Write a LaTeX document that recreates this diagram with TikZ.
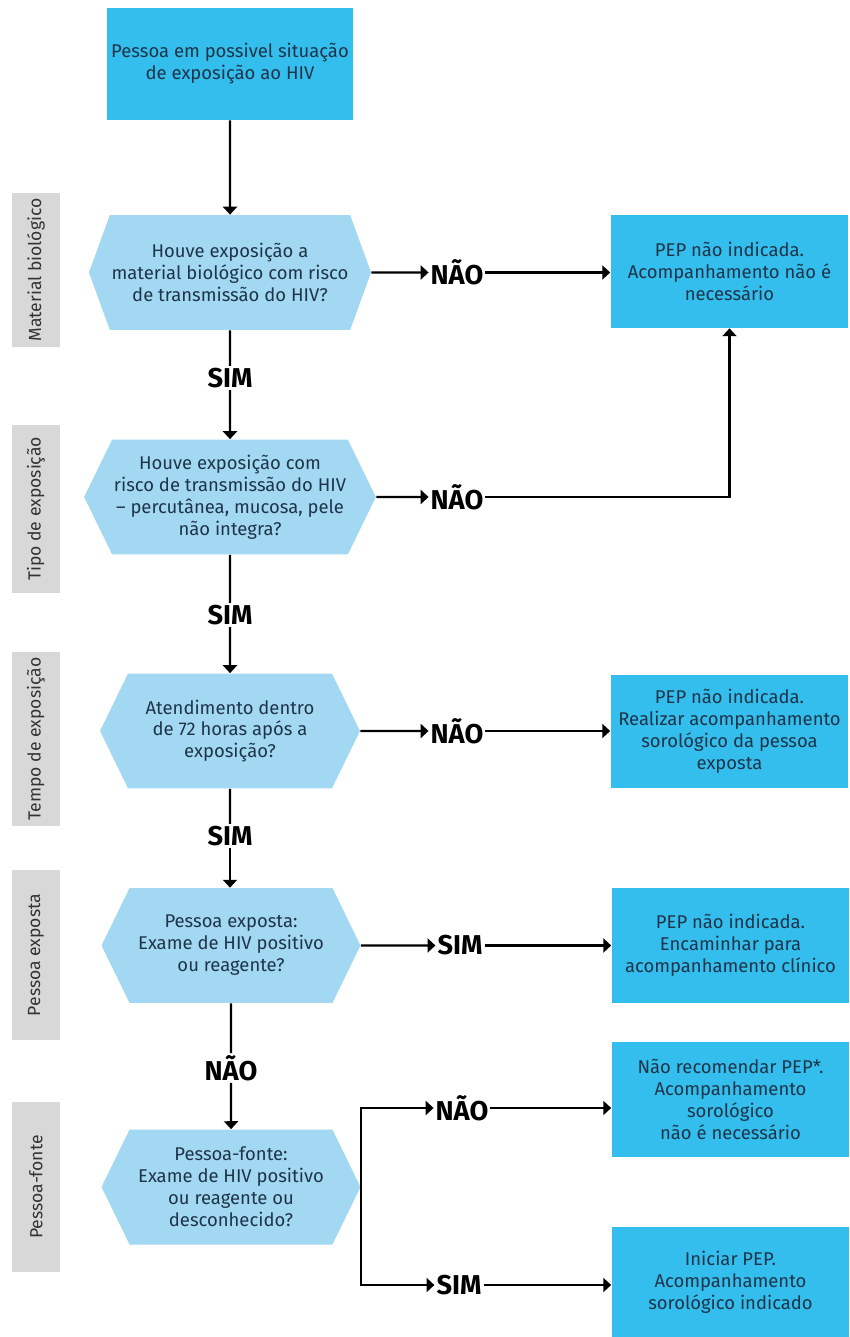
\documentclass[tikz,border=0pt]{standalone}
\usepackage{fontspec}
\setmainfont{Fira Sans}
\usetikzlibrary{arrows.meta,shapes.symbols}
\definecolor{boxcyan}{RGB}{52,190,237}
\definecolor{hexblue}{RGB}{163,216,242}
\definecolor{stagegray}{RGB}{216,216,216}
\definecolor{inkblue}{RGB}{30,52,72}
\tikzset{outcome/.style={fill=boxcyan,text=inkblue,align=center,inner sep=2pt,
   minimum width=4.76cm,minimum height=2.26cm,font=\fontsize{10.5}{12.5}\selectfont},
 question/.style={shape=signal,signal to=west and east,signal pointer angle=128,
   fill=hexblue,text=inkblue,align=center,inner sep=1pt,minimum height=2.3cm,
   font=\fontsize{10.5}{12.5}\selectfont},
 stage/.style={fill=stagegray,rotate=90,text=black!80,minimum height=0.96cm,
   font=\fontsize{10}{11}\selectfont},
 answer/.style={inner sep=1pt,font=\fontsize{15.5}{15.5}\selectfont\bfseries},
 flow/.style={line width=1.2pt,-{Triangle[length=4.5pt,width=8pt]}},
 link/.style={line width=1.2pt},
 every picture/.style={line join=miter}}
\begin{document}
\begin{tikzpicture}[x=0.02cm,y=-0.02cm]
\useasboundingbox (0,0) rectangle (849,1337);
% start
\node[outcome,minimum width=4.92cm,minimum height=2.24cm] (start) at (230,64) {Pessoa em possivel situação\\de exposição ao HIV};
% stage labels
\node[stage,minimum width=2.8cm] (st1) at (36,270) {Material biológico};
\node[stage,minimum width=3.36cm] (st2) at (36,509) {Tipo de exposição};
\node[stage,minimum width=3.36cm] (st3) at (36,739) {Tempo de exposição};
\node[stage,minimum width=3.4cm] (st4) at (36,955) {Pessoa exposta};
\node[stage,minimum width=3.4cm] (st5) at (36,1187) {Pessoa-fonte};
% questions
\node[question,minimum width=5.5cm,signal pointer angle=140] (q1) at (230,272.5) {Houve exposição a\\material biológico com risco\\de transmissão do HIV?};
\node[question,minimum width=5.38cm] (q2) at (230,497) {Houve exposição com\\risco de transmissão do HIV\\– percutânea, mucosa, pele\\não integra?};
\node[question,minimum width=5.2cm] (q3) at (230,731) {Atendimento dentro\\de 72 horas após a\\exposição?};
\node[question,minimum width=5.18cm] (q4) at (231,945.5) {Pessoa exposta:\\Exame de HIV positivo\\ou reagente?};
\node[question,minimum width=5.18cm] (q5) at (231,1187) {Pessoa-fonte:\\Exame de HIV positivo\\ou reagente ou\\desconhecido?};
% outcomes
\node[outcome] (r1) at (729.5,271.5) {PEP não indicada.\\Acompanhamento não é\\necessário};
\node[outcome] (r2) at (729.5,731.5) {PEP não indicada.\\Realizar acompanhamento\\sorológico da pessoa\\exposta};
\node[outcome,minimum height=2.3cm] (r3) at (730.5,945.5) {PEP não indicada.\\Encaminhar para\\acompanhamento clínico};
\node[outcome,minimum height=2.3cm] (r4) at (730.5,1099.5) {Não recomendar PEP*.\\Acompanhamento\\sorológico\\não é necessário};
\node[outcome,minimum height=2.2cm] (r5) at (730.5,1282) {Iniciar PEP.\\Acompanhamento\\sorológico indicado};
% answers
\node[answer] (n1) at (457,272.5) {NÃO};
\node[answer] (s1) at (230,378) {SIM};
\node[answer] (n2) at (457,497) {NÃO};
\node[answer] (s2) at (230,615) {SIM};
\node[answer] (n3) at (457,731) {NÃO};
\node[answer] (s3) at (230,836) {SIM};
\node[answer] (s4) at (460,945.5) {SIM};
\node[answer] (n4) at (231,1068) {NÃO};
\node[answer] (n5) at (462,1108) {NÃO};
\node[answer] (s5) at (459,1285) {SIM};
% connectors
\draw[flow] (start) -- (q1);
\draw[link] (q1) -- (s1);
\draw[flow] (s1) -- (q2);
\draw[link] (q2) -- (s2);
\draw[flow] (s2) -- (q3);
\draw[link] (q3) -- (s3);
\draw[flow] (s3.south) -- (s3.south |- q4.north);
\draw[link] (q4) -- (n4);
\draw[flow] (n4) -- (q5);
\draw[flow] (q1) -- (n1);
\draw[flow] (n1.east) -- (n1.east -| r1.west);
\draw[flow] (q2) -- (n2);
\draw[flow] (n2.east) -| (r1.south);
\draw[flow] (q3) -- (n3);
\draw[flow] (n3.east) -- (n3.east -| r2.west);
\draw[flow] (q4) -- (s4);
\draw[flow] (s4.east) -- (s4.east -| r3.west);
\draw[flow] (q5.east) |- (n5.west);
\draw[flow] (q5.east) |- (s5.west);
\draw[flow] (n5.east) -- (n5.east -| r4.west);
\draw[flow] (s5.east) -- (s5.east -| r5.west);
\end{tikzpicture}
\end{document}
